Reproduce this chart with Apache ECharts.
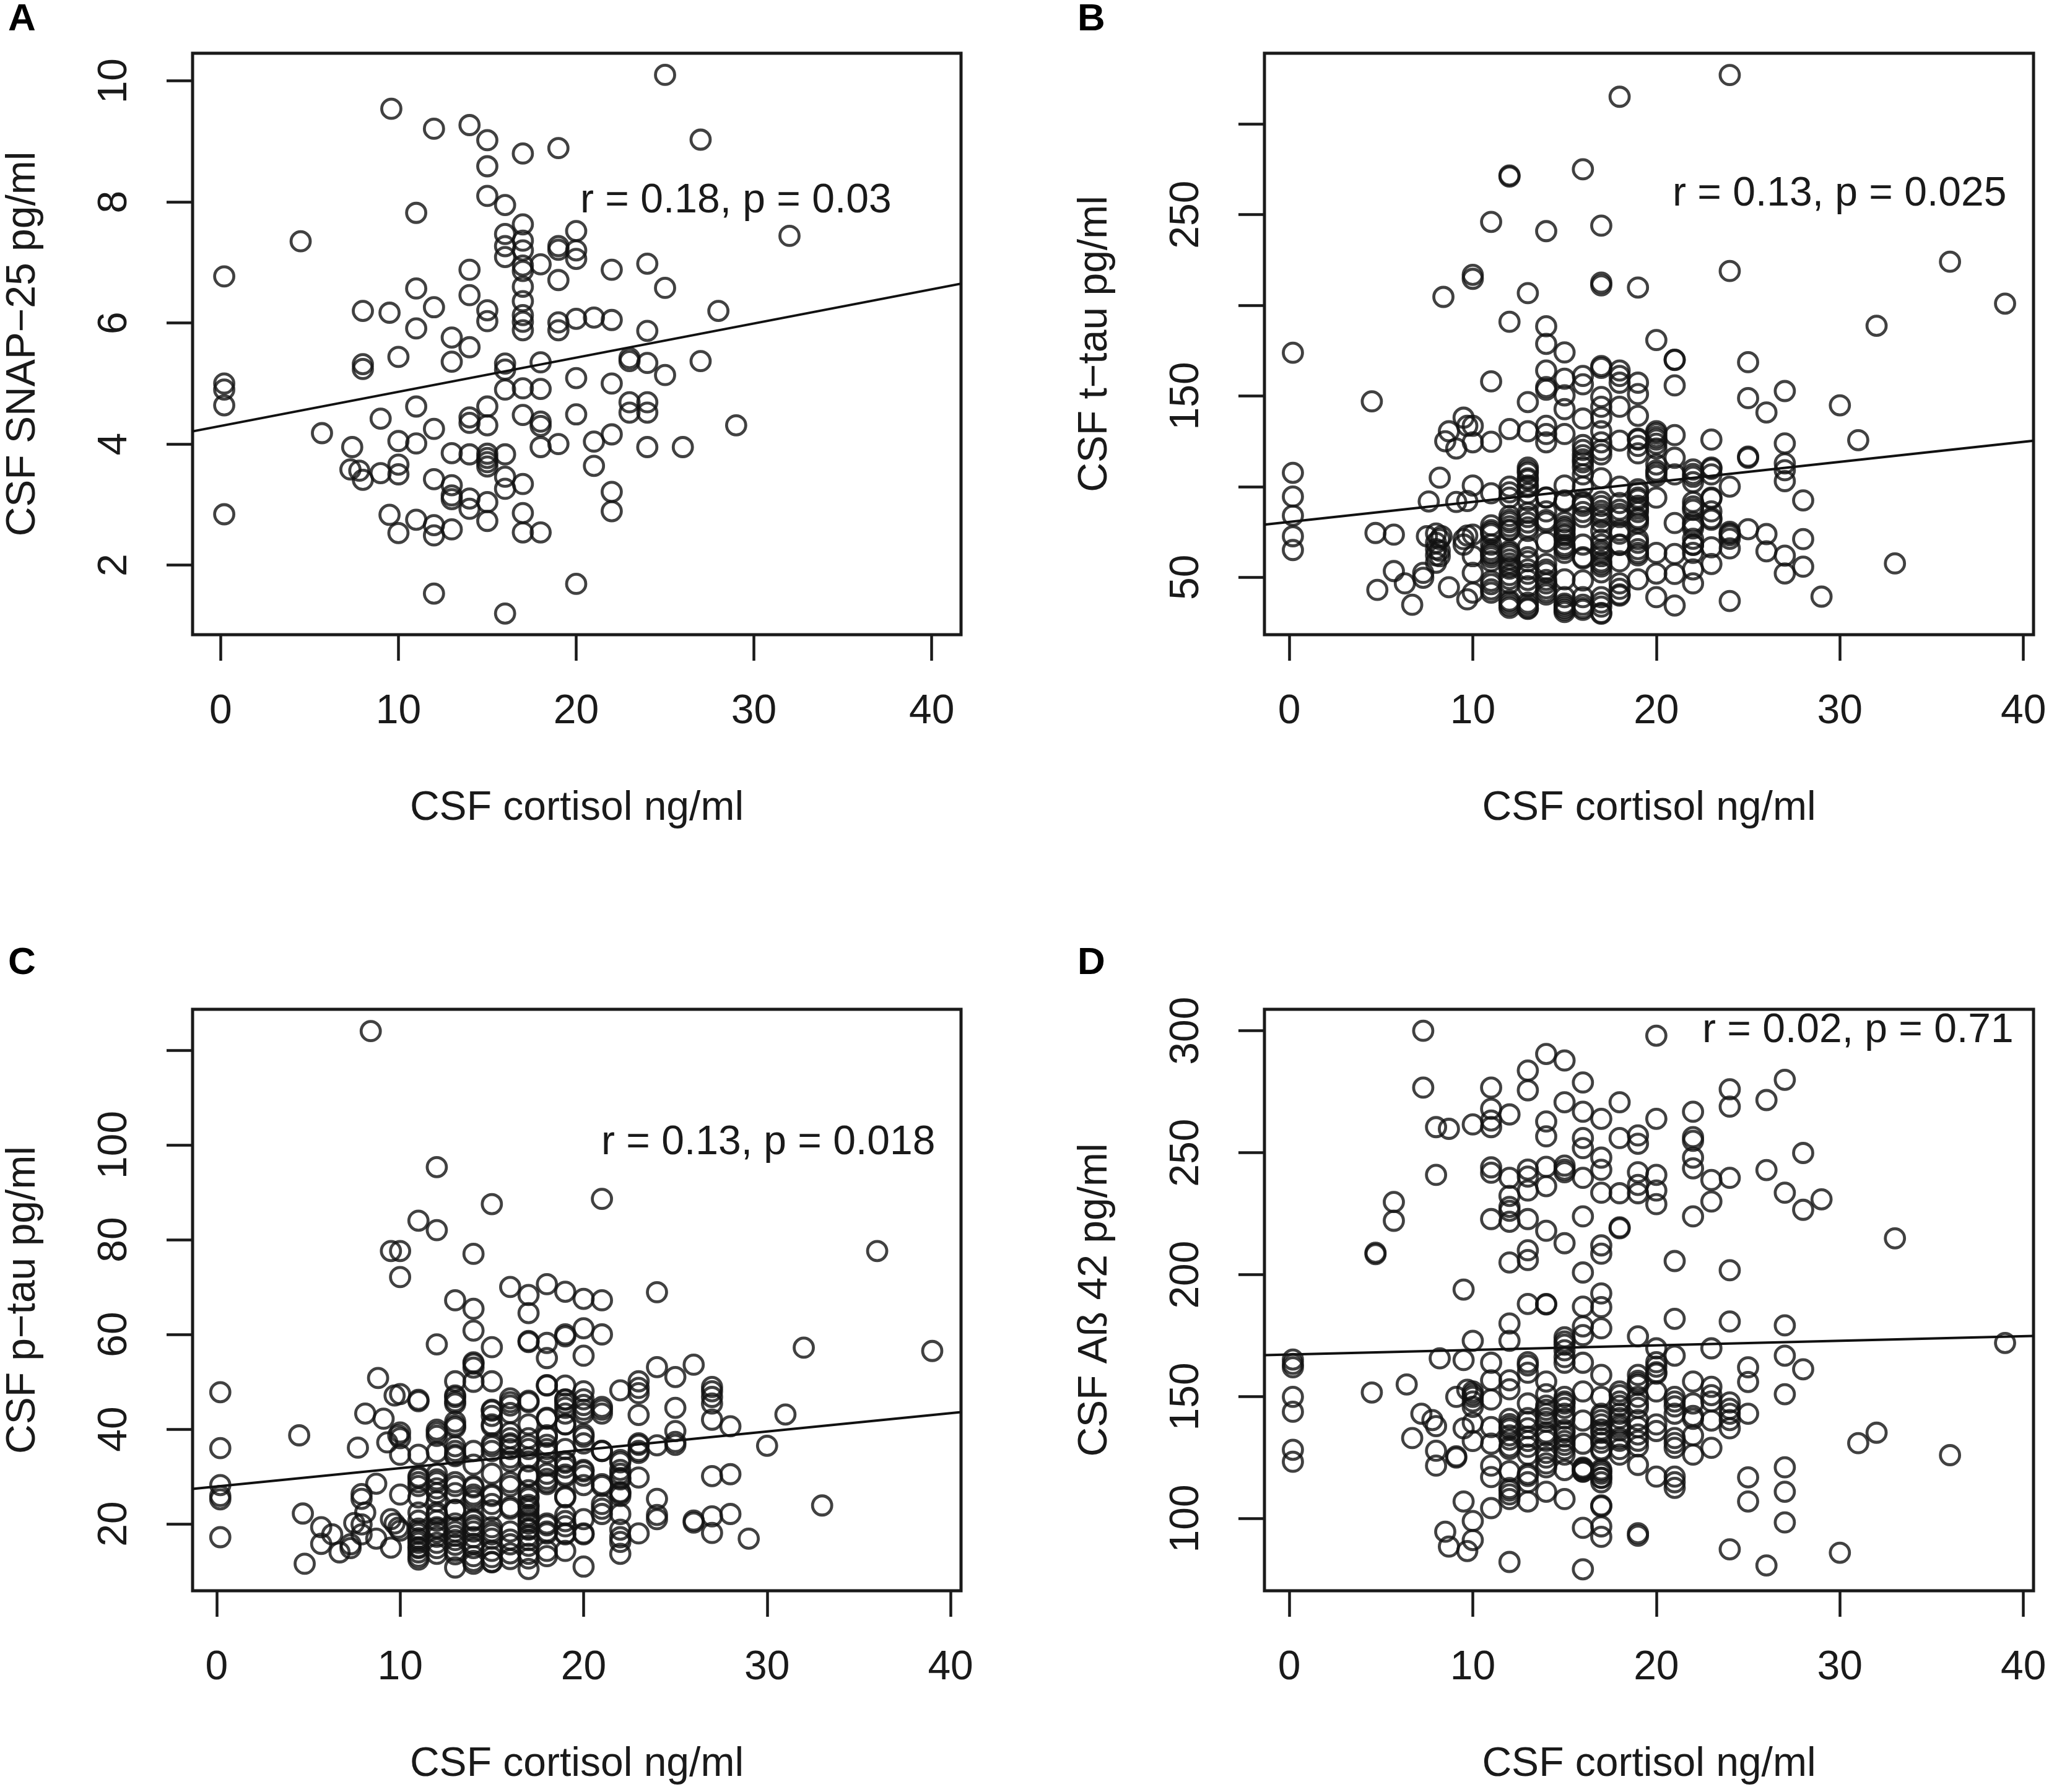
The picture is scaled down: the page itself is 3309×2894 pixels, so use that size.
<!DOCTYPE html>
<html><head><meta charset="utf-8">
<script src="https://cdn.jsdelivr.net/npm/echarts@6/dist/echarts.min.js"></script>
<style>html,body{margin:0;padding:0;background:#fff}#c{width:3309px;height:2894px}</style>
</head><body><div id="c"></div>
<script>
// Each entry: [cortisol x, [y values at that x]]
const pointsA = [
[0.2,[6.77,5.0,4.9,4.64,2.84]],[4.5,[7.35]],[5.7,[4.18]],[7.4,[3.95]],[7.3,[3.58]],[7.8,[3.56]],[8,[3.41,5.32,5.24,6.2]],
[9,[4.42,3.52]],[9.5,[2.83,6.17]],[9.6,[9.54]],[10,[5.44,4.05,3.66,3.5,2.53]],[11,[7.82,6.57,5.91,4.62,4.01,2.75]],
[12,[9.21,6.26,4.25,3.42,2.66,2.49,1.53]],[13,[5.76,5.36,3.85,3.32,3.15,3.09,2.59]],[14,[9.27,6.88,6.46,5.6,4.44,4.35,3.83,3.1,2.93]],
[15,[9.02,8.59,8.1,6.21,6.03,4.62,4.31,3.84,3.77,3.7,3.63,3.04,2.73]],[16,[7.95,7.47,7.27,7.09,5.33,5.23,4.9,3.83,3.46,3.26,1.2]],
[17,[8.8,7.63,7.36,7.2,6.95,6.86,6.6,6.36,6.13,6.02,5.88,4.92,4.48,3.34,2.86,2.54]],[18,[6.97,5.35,4.91,4.37,4.3,3.95,2.54]],
[19,[8.89,7.27,7.21,6.71,6.01,5.88,4.0]],[20,[7.52,7.2,7.06,6.07,5.09,4.49,1.69]],[21,[6.09,4.04,3.64]],[22,[6.88,6.05,5.0,4.16,3.21,2.89]],
[23,[5.42,5.37,4.69,4.52]],[24,[6.98,5.87,5.34,4.69,4.52,3.95]],[25,[10.1,6.58,5.14]],[26,[3.95]],[27,[9.03,5.37]],[28,[6.2]],[29,[4.31]],[32,[7.44]]
];
const pointsB = [
[0.2,[173.8,107.6,94.5,84,72.6,65]],[4.5,[147]],[4.8,[43]],[4.7,[74.4]],[5.7,[73.5,53.4]],[6.3,[46.6]],[6.7,[34.8]],[7.3,[49.7,52.4]],[7.5,[72.6]],[7.6,[91.8]],
[8.0,[58,74.1,69,65.5,62.1]],[8.2,[61.6,64.6,71,104.9]],[8.4,[204.6]],[8.3,[72.6]],[8.5,[125]],[8.7,[130.5,44.5]],[9.1,[121,91.5]],[9.5,[138,68,71]],[9.7,[37.8,92,133.5,73]],
[10,[133.5,124.4,216.8,214.6,100.6,61.6,52.4,41.5,73.5]],[11,[246,158,124.7,96.3,76,73.8,68,62.5,58.8,48,41.5]],
[12,[271.6,271,190.9,131.7,100,93.9,81.7,76.2,63.4,59.8,55.8,51.2,46.6,36,34.4]],
[13,[206.7,146.6,130.5,107.6,104.6,100.6,96.3,92.4,83.2,80.2,75.6,66.5,58.8,54.3,45,34.4,33]],
[14,[240.9,188.4,178.7,164,154.9,153.4,133.5,129,124.4,93.9,86.3,80.2,69.5,57.3,52.7,46.6,42]],
[15,[174,159.5,150.3,142.7,129,100.6,92.4,77,74,71,66.5,63.4,48.8,39,34.4,32]],
[16,[275,161,156.4,137.5,122.9,115,110.7,106.7,100,90.9,83.2,68,60.4,48.2,39,33]],
[17,[243.9,212.5,211,166.5,165.5,149.4,144,138,130.5,124.4,117.7,104.6,89.3,84.8,80.2,75.6,68,63.4,57.3,52.7,39,33.8,29.9]],
[18,[315,164,161,157.3,144,125.3,100,90.9,83.2,74,68,58.8,46.6,43.6,40.5]],
[19,[209.8,157.3,151,139,125.9,118.3,98.5,93.9,87.8,81.7,71,63.4,48.8]],
[20,[180.8,130.5,127.4,121,112.2,107.6,93.9,63.4,52,39]],
[21,[170,169.8,155.8,128.4,115.9,106.7,79.9,62.8,51.8,34.4]],
[22,[107,102.4,91.5,89,78.7,68,63.4,54.3,46.6]],[23,[125.9,109.8,106.7,93.9,86.3,81.7,66.5,57.3]],
[24,[327,218.9,100,75,73.2,65.9,36.9]],[25,[168.6,148.8,116.5,115.9,76.5]],[26,[140.9,73.8,64.3]],
[27,[152.7,123.8,112.8,109,103,61.9,52.1]],[28,[92.4,71,55.8]],[29,[39.3]],[30,[144.8]],[31,[125.6]],[32,[188.7]],[33,[57.6]],[36,[224]],[39,[200.9]]
];
const clusterB = [
[11,[78.6,74.9,65,63.3,61,46.2,43.3]],
[12,[96.8,83.8,80.3,78.1,75.8,64.4,62.1,57.6,54.7,49,37.1,33.1]],
[13,[110.5,108.8,103.7,99.7,85.5,77.5,61,51.9,48.5,35.9,32.5]],
[14,[94,81.5,54.2,48.5,43.9,40.5]],
[15,[91.7,80.3,78.1,75.8,73,67.8,65.5,35.4,33.1,30.8]],
[16,[120.2,117.3,113.4,91.7,89.4,86,61,34.8,32]],
[17,[120.2,91.7,86.6,83.2,70.7,65,61.6,58.7,55.9,36,30.3]],
[18,[87.2,84.9,75.8,67.8,39.9]],
[19,[126.4,122.4,96.8,92.8,89.4,86,82.6,79.8,69,65.5,62.1]],
[20,[129.3,125.9,123.6,108.8,105.9]],
[22,[109.4,105.4,87.2,80.3,76.9,71.2,67.8]],
[23,[110.5,93.4,82.6]],
[24,[74.1,71.2]]
];
const pointsC = [
[0.2,[47.8,36,28.2,25.9,25.2,17.2]],[4.5,[38.7]],[4.7,[22.2]],[4.8,[11.6]],[5.7,[19.3,15.8]],[6.3,[17.8]],[6.7,[14]],[7.3,[14.9,15.7]],[7.5,[20.2]],[7.7,[36.1]],
[7.9,[26.3,25.3,19.9,17.8]],[8.1,[43.3,22.4]],[8.4,[124]],[8.7,[28.5,16.9]],[8.8,[50.8]],[9.1,[42.2]],[9.3,[37.2]],[9.5,[21,77.6,15]],[9.7,[47.1,20.1]],[9.9,[38.7,19.2]],
[10,[77.6,72.1,47.4,39.3,38.1,34.6,26.2,18.6]],[11,[84,46.2,45.9,34.6,30,28.8,25.6,22.4,20.7,18.4,16.6,14.9,13.1]],
[12,[95.3,82,57.9,39.9,39.3,35.2,30.6,29.4,26.5,24.8,22.4,20.7,19,16,13.7]],
[13,[67.2,50.1,46.8,45.9,41.6,40.4,36.4,34.6,28.8,26.5,23,18.4,16.6,14.3,10.8]],
[14,[77,65.4,60.8,53.8,53,50,35.4,32.5,27.7,25.6,20.7,19.2,17.2,14.9,12.2]],
[15,[87.5,57.3,50.1,43.9,42.8,41,37,36.4,30.6,25.9,24.2,18.4,17.8,14.3,12]],
[16,[70,45.7,39.3,38.1,35.8,34,28.8,23.6,18.4,15.7,12.6]],
[17,[68.3,64.5,58.6,58.4,46,45.7,41,38.1,34,30,25.9,23.6,21.9,20.7,19,16.6,13.7,10.5]],
[18,[70.6,58.2,55,49.2,42.2,38.7,35.8,30.6,28.8,20.1,18.4,14.3]],
[19,[69,60,59.6,49.2,46.2,44.5,43.3,41,35.8,32.9,30,25.6,21.9,19.5,17.8,14.3]],
[20,[67.5,61.3,55.5,48,45.1,43.3,38.9,37,31.1,28.2,21,17.8,11]],
[21,[88.6,67.2,60,44.7,43.3,35.4,28,24.2,22.1]],[22,[48.2,33.5,30.6,29.4,26.5,25.9,22.1,17.2,13.7]],
[23,[50.1,47.6,43,37,35,29.8,18]],[24,[68.9,53.1,36.6,25.3,21.9,21]],[25,[51,44.5,39.6,37.3,36.7]],[26,[53.6,20.7,20.3]],
[27,[48.9,48,46.8,45.4,42,30.1,21.6,18.1]],[28,[40.6,30.5,22.1]],[29,[16.9]],[30,[36.5]],[31,[43.1]],[32,[57.2]],[33,[23.9]],[36,[77.6]],[39,[56.5]]
];
const clusterC = [
[11,[29.7,28,19,17.9,17,16,15.1,14,12.5]],
[12,[38.6,28.8,27.5,21.9,19.3,18.2,17.3,14.9]],
[13,[47.1,45.4,40.8,35.4,34.3,28,22.9,20.1,19.3,17.5,15.6,13.6]],
[14,[54.1,28,26.2,24.9,21,19.7,18.4,15.8,13.2,11.6]],
[15,[44.1,40.6,35.4,26.2,22.9,19.3,16.9,13,11.9]],
[16,[46.5,45,43.4,37,36.7,33.2,28,23.2,16.7,13.8]],
[17,[36.7,35.8,33.2,30.2,27.1,25.4,24,22.9,21.4,20.1,18.8,17.5,15.4,12.7]],
[18,[49.3,42.4,38.4,36.7,35,32.3,29.5,28.4,19.7,18,13.2]],
[19,[46.3,45.4,41,33.2,31.9,30.4,25.8,20.6,18]],
[20,[46.3,44.1,38.4,31.4,30.2,18]],
[21,[44.1,35.4,28.4,23.2]],
[22,[33,31.4,29.7,26.7,18.8,16.2]],
[23,[48.7,36.7,35.4]]
];
const pointsD = [
[0.2,[165.2,163.4,162,149.9,143.8,128.2,123.3]],[4.5,[151.7]],[4.7,[209,208.4]],[5.7,[229.8,222.1]],[6.4,[155]],[6.7,[133]],[7.3,[300,276.7]],[7.2,[143]],[7.8,[140.4]],
[8,[260.5,240.9,137.9,127.8,121.7]],[8.2,[165.7]],[8.5,[94.6]],[8.7,[88.5,259.8]],[9.1,[149.9,125.5,125]],[9.5,[137,193.9,165,107]],[9.7,[86.7,152.8]],
[10,[261.6,172.9,152.1,149.9,145.8,139.3,131.8,99,91.2]],[11,[276.7,268,263.2,260.5,244,241.8,222.8,163.9,156.7,148.8,137.5,130.7,121.7,117,104.3]],
[12,[265.7,239.7,232.3,227.8,226.2,221.7,205,180,172.9,156.7,153,140.9,137.5,134.1,129.6,119.4,111.5,108,82.2]],
[13,[283.7,275.6,243.1,240.2,234.5,222.8,210,206,188,162.8,159.8,147.2,139.7,131.8,126.2,118.3,114.9,107]],
[14,[290.5,262.8,256.7,244.2,236.3,218,188,187.8,156.2,151,143,139.7,134.1,125,121,111]],
[15,[287.8,270.7,244.7,243.1,242,212.9,174.3,171.3,169,163.9,149.9,145.4,143,136.3,131.8,128.4,126.2,119.9,108]],
[16,[278.8,266.8,256,251.9,239.7,223.9,200.9,186.9,178.8,175.2,163.9,152.1,140.2,130.7,120.5,119.4,96.2,79.2]],
[17,[263.9,248,243,233.6,212,208.6,192.3,186.7,178,158.9,149.9,143,138.6,135.2,128.4,119.4,116.7,114.9,105.4,105,96.8,92.5]],
[18,[270.7,256,233.4,219.4,219,152.1,148,143,137.5,133,126.2]],
[19,[257.1,253.7,242,236.8,233.4,174.7,158.9,155.5,149.9,145.4,137.5,129.6,122,94,93]],
[20,[298,263.9,240.9,234.5,228.9,169.8,162.3,160,152.1,138.6,135.9,117.2]],
[21,[205.6,181.9,166.8,149.9,143,133,129,117.2,114.9,112.6]],[22,[266.8,256.4,254.9,248,243.6,223.9,156.2,147.2,140.9,134.1,126.2]],
[23,[238.8,230,169.8,154,148,140.2,129]],[24,[276,268.9,239.7,201.8,180.8,147.6,143,137,87.4]],[25,[162,156,143,116.9,107]],[26,[271.6,242.9,80.8]],
[27,[279.9,233.6,179.2,166.8,151,121,111,98.4]],[28,[249.9,226.6,161.2]],[29,[230.9]],[30,[86]],[31,[130.9]],[32,[135.2]],[33,[214.9]],[36,[126]],[39,[172]]
];
const clusterD = [
[10,[151,148]],
[12,[138.7,136.6,132.4,128.5,112.5,109.9]],
[13,[164.1,141.2,137,133.6,129.4,117.5]],
[14,[146.3,144.6,141.2,135.3,131.9,126.9,122.6]],
[15,[172.6,166.2,148,147.2,141,135.3,133.6,130.2]],
[16,[120.9,120.1,119.2]],
[17,[142.1,140.4,136.5,132.8,131.1,127.7,120.1,118.4,116.7]],
[18,[150.6,146.3,141.2,138.7,136.2,131.9,128.5]],
[19,[156.5,154.8,147.2,140.4,134.5,131.9]],
[20,[164.1,159.4]],
[21,[148,146,131]],
[22,[142.1]],
[23,[150.6]],
[24,[145,140.4]]
];
const fitA = [[-1.58,4.21],[41.65,6.65]];
const fitB = [[-1.35,79],[40.55,125.3]];
const fitC = [[-1.31,27.4],[40.57,43.6]];
const fitD = [[-1.35,167],[40.55,174.9]];
const xTicks = [0,10,20,30,40];
const yTicksA = [2,4,6,8,10], yLabelsA = [2,4,6,8,10];
const yTicksB = [50,100,150,200,250,300], yLabelsB = [50,150,250];
const yTicksC = [20,40,60,80,100,120], yLabelsC = [20,40,60,80,100];
const yTicksD = [100,150,200,250,300], yLabelsD = [100,150,200,250,300];
const xName = 'CSF cortisol ng/ml';

const panels = [
 {letter:'A',lx:13,ly:1,points:pointsA,fit:fitA,yName:'CSF SNAP\u221225 pg/ml',yTicks:yTicksA,yLabels:yLabelsA,
  left:311,top:86,w:1241,h:939,xr:[-1.58,41.65],yr:[0.85,10.457],note:'r = 0.18, p = 0.03',nx:937,ny:321},
 {letter:'B',lx:1740,ly:1,points:pointsB.concat(clusterB),fit:fitB,yName:'CSF t\u2212tau pg/ml',yTicks:yTicksB,yLabels:yLabelsB,
  left:2042,top:86,w:1242,h:939,xr:[-1.35,40.55],yr:[18.3,339],note:'r = 0.13, p = 0.025',nx:2701,ny:310},
 {letter:'C',lx:13,ly:1525,points:pointsC.concat(clusterC),fit:fitC,yName:'CSF p\u2212tau pg/ml',yTicks:yTicksC,yLabels:yLabelsC,
  left:311,top:1630,w:1241,h:939,xr:[-1.31,40.57],yr:[5.9,128.6],note:'r = 0.13, p = 0.018',nx:971,ny:1842},
 {letter:'D',lx:1740,ly:1525,points:pointsD.concat(clusterD),fit:fitD,yName:'CSF A\u00df 42 pg/ml',yTicks:yTicksD,yLabels:yLabelsD,
  left:2042,top:1630,w:1242,h:939,xr:[-1.35,40.55],yr:[70.4,308.8],note:'r = 0.02, p = 0.71',nx:2749,ny:1661}
];
const FONT='"Liberation Sans"', INK='#1a1a1a', FS=66;
const grid=[],xAxis=[],yAxis=[],series=[],graphic=[];
panels.forEach((p,i)=>{
  grid.push({left:p.left,top:p.top,width:p.w,height:p.h,show:true,borderColor:INK,borderWidth:5,backgroundColor:'transparent',containLabel:false});
  xAxis.push({type:'value',gridIndex:i,min:p.xr[0],max:p.xr[1],
    name:xName,nameLocation:'middle',nameGap:248,nameTextStyle:{fontFamily:FONT,fontSize:FS,color:INK},
    axisLine:{show:false,onZero:false},splitLine:{show:false},
    axisTick:{show:true,length:42,lineStyle:{color:INK,width:4.5},customValues:xTicks},
    axisLabel:{show:true,margin:92,fontFamily:FONT,fontSize:FS,color:INK,customValues:xTicks}});
  yAxis.push({type:'value',gridIndex:i,min:p.yr[0],max:p.yr[1],
    name:p.yName,nameLocation:'middle',nameGap:240,nameRotate:90,nameTextStyle:{fontFamily:FONT,fontSize:FS,color:INK},
    axisLine:{show:false,onZero:false},splitLine:{show:false},
    axisTick:{show:true,length:42,lineStyle:{color:INK,width:4.5},customValues:p.yTicks},
    axisLabel:{show:true,margin:92,rotate:90,fontFamily:FONT,fontSize:FS,color:INK,customValues:p.yLabels}});
  series.push({type:'scatter',xAxisIndex:i,yAxisIndex:i,symbol:'circle',symbolSize:31,silent:true,
    itemStyle:{color:'transparent',borderColor:'#111',borderWidth:4.8},
    data:p.points.flatMap(([x,ys])=>ys.map(y=>[x,y]))});
  series.push({type:'line',xAxisIndex:i,yAxisIndex:i,showSymbol:false,silent:true,
    lineStyle:{color:'#111',width:4},data:p.fit});
  graphic.push({type:'text',left:p.lx,top:p.ly,style:{text:p.letter,fontFamily:FONT,fontWeight:'bold',fontSize:62,fill:'#000'}});
  graphic.push({type:'text',left:p.nx,top:p.ny-29,style:{text:p.note,fontFamily:FONT,fontSize:FS,fill:INK}});
});
const chart=echarts.init(document.getElementById('c'),null,{renderer:'canvas',width:3309,height:2894});
chart.setOption({animation:false,backgroundColor:'#fff',grid,xAxis,yAxis,series,graphic});
</script></body></html>
